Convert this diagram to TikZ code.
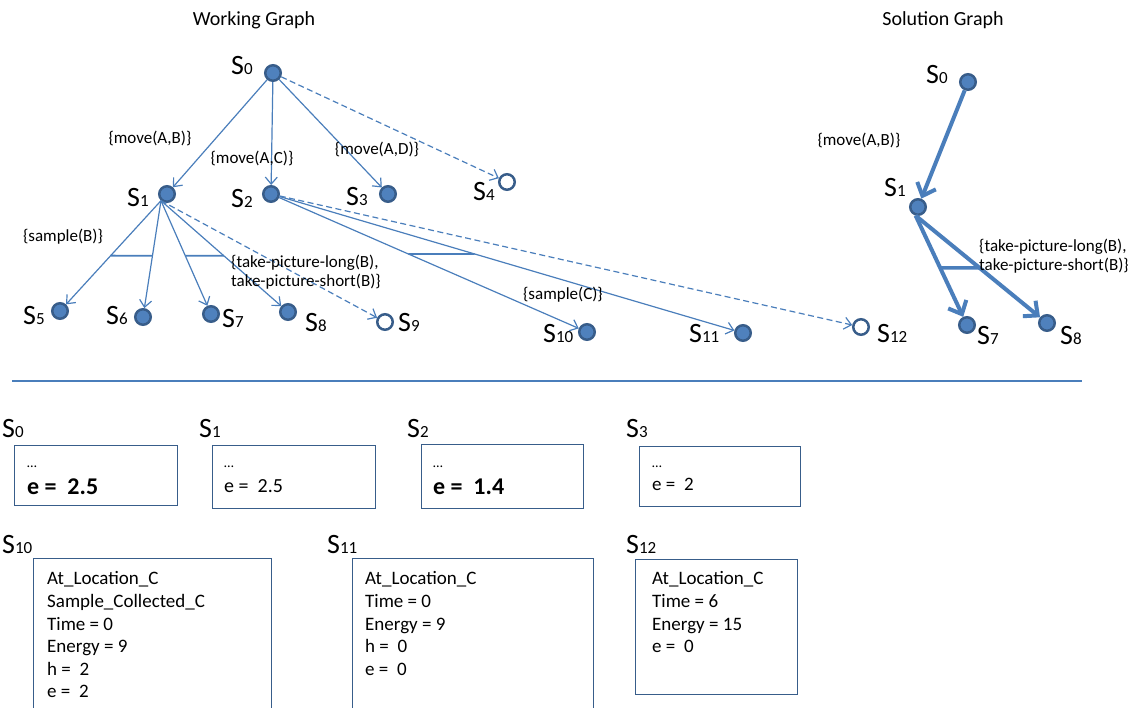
\documentclass[tikz,border=0pt]{standalone}
\usepackage{fontspec}
\setmainfont{Carlito}
\usetikzlibrary{arrows.meta}
\definecolor{edgeblue}{HTML}{4A7EBB}
\definecolor{nodefill}{HTML}{4F81BD}
\definecolor{nodeline}{HTML}{385D8A}
\newcommand\Sn[1]{S{\fontsize{17}{17}\selectfont #1}}
\begin{document}
\begin{tikzpicture}[x=1pt,y=-1pt,
 state/.style={circle, fill=nodefill, draw=nodeline, line width=2.5pt, minimum size=15.5pt, inner sep=0pt},
 openstate/.style={circle, fill=white, draw=nodeline, line width=2.5pt, minimum size=15.5pt, inner sep=0pt},
 slabel/.style={anchor=base west, inner sep=0pt, font=\fontsize{28}{28}\selectfont},
 elabel/.style={inner sep=0pt, font=\fontsize{17}{18.5}\selectfont},
 edge/.style={draw=edgeblue, line width=1.2pt, -{Straight Barb[length=7pt,width=12pt]}},
 dedge/.style={edge, dash pattern=on 6pt off 3.5pt},
 hyper/.style={draw=edgeblue, line width=1.8pt},
 bigedge/.style={draw=edgeblue, line width=4pt, -{Straight Barb[length=11pt,width=20pt]}},
 bighyper/.style={draw=edgeblue, line width=3.5pt},
 sepline/.style={draw=edgeblue, line width=2.5pt},
 box/.style={draw=nodeline, line width=1.3pt, anchor=north west, inner sep=0pt},
 boxtext/.style={anchor=north west, inner sep=0pt, align=left, font=\fontsize{19}{22.6}\selectfont},
 dots/.style={anchor=base west, inner sep=0pt, font=\fontsize{14}{14}\selectfont},
 evalue/.style={anchor=base west, inner sep=0pt},
 title/.style={font=\fontsize{20}{24}\selectfont}
]
\useasboundingbox (0,0) rectangle (1144,708);

% titles
\node[title] (t1) at (254,20) {Working Graph};
\node[title] (t2) at (943,20) {Solution Graph};

% working graph states
\node[state] (w0) at (273,73) {};
\node[state] (w1) at (167,194) {};
\node[state] (w2) at (271,194) {};
\node[state] (w3) at (388,194) {};
\node[openstate] (w4) at (507,182) {};
\node[state] (w5) at (60,311) {};
\node[state] (w6) at (143,317) {};
\node[state] (w7) at (211,314) {};
\node[state] (w8) at (288,312) {};
\node[openstate] (w9) at (385,322) {};
\node[state] (w10) at (587,332) {};
\node[state] (w11) at (743,333) {};
\node[openstate] (w12) at (861,327) {};

\node[slabel] (lw0) at (231,75) {\Sn0};
\node[slabel] (lw1) at (127,207) {\Sn1};
\node[slabel] (lw2) at (231,208) {\Sn2};
\node[slabel] (lw3) at (346,206) {\Sn3};
\node[slabel] (lw4) at (473,201) {\Sn4};
\node[slabel] (lw5) at (23,325) {\Sn5};
\node[slabel] (lw6) at (106,325) {\Sn6};
\node[slabel] (lw7) at (222,328) {\Sn7};
\node[slabel] (lw8) at (305,332) {\Sn8};
\node[slabel] (lw9) at (398,332) {\Sn9};
\node[slabel] (lw10) at (543,343) {\Sn{10}};
\node[slabel] (lw11) at (689,343) {\Sn{11}};
\node[slabel] (lw12) at (877,343) {\Sn{12}};

% working graph edges
\draw[edge] (w0) -- (w1);
\draw[edge] (w0) -- (w2);
\draw[edge] (w0) -- (w3);
\draw[dedge] (w0) -- (w4);
\coordinate (w1s) at (w1.228);
\draw[edge] (w1s) -- coordinate[pos=0.53] (h1a) (w5);
\draw[edge] (w1s) -- coordinate[pos=0.513] (h1b) (w6);
\draw[edge] (w1s) -- coordinate[pos=0.525] (h2a) (w7);
\draw[edge] (w1s) -- coordinate[pos=0.523] (h2b) (w8);
\draw[dedge] (w1s) -- (w9);
\draw[hyper] (h1a) -- (h1b);
\draw[hyper] (h2a) -- (h2b);
\draw[edge] (w2) -- coordinate[pos=0.431] (h3a) (w10);
\draw[edge] (w2) -- coordinate[pos=0.429] (h3b) (w11);
\draw[dedge] (w2) -- (w12);
\draw[hyper] (h3a) -- (h3b);

% working graph labels
\node[elabel] (m1) at (150,138) {\{move(A,B)\}};
\node[elabel] (m2) at (252,158) {\{move(A,C)\}};
\node[elabel] (m3) at (377,149) {\{move(A,D)\}};
\node[elabel] (m4) at (63,237) {\{sample(B)\}};
\node[elabel, anchor=west, align=left] (m5) at (231,272) {\{take-picture-long(B),\\take-picture-short(B)\}};
\node[elabel] (m6) at (563,295) {\{sample(C)\}};

% solution graph
\node[state] (z0) at (968,82) {};
\node[state] (z1) at (918,207) {};
\node[state] (z7) at (967,325) {};
\node[state] (z8) at (1047,323) {};
\node[slabel] (lz0) at (926,84) {\Sn0};
\node[slabel] (lz1) at (884,197) {\Sn1};
\node[slabel] (lz7) at (977,345) {\Sn7};
\node[slabel] (lz8) at (1060,345) {\Sn8};
\draw[bigedge] (z0) -- (z1);
\coordinate (z1s) at (z1.-105);
\draw[bigedge] (z1s) -- coordinate[pos=0.517] (h4a) (z7);
\draw[bigedge] (z1s) -- coordinate[pos=0.514] (h4b) (z8);
\draw[bighyper] (h4a) -- (h4b);
\node[elabel] (m7) at (859,140) {\{move(A,B)\}};
\node[elabel, anchor=west, align=left] (m8) at (979,256) {\{take-picture-long(B),\\take-picture-short(B)\}};

% separator
\coordinate (sepL) at (12,381);
\coordinate (sepR) at (1082,381);
\draw[sepline] (sepL) -- (sepR);

% state boxes
\node[slabel] (l0) at (2,438) {\Sn0};
\node[box, minimum width=163pt, minimum height=60pt] (b0) at (14,445) {};
\node[dots] (d0) at (27,468) {…};
\node[evalue, font=\fontsize{24}{24}\selectfont\bfseries] (e0) at (27,495) {e = \ 2.5};

\node[slabel] (l1) at (199,438) {\Sn1};
\node[box, minimum width=163pt, minimum height=63pt] (b1) at (212,445) {};
\node[dots] (d1) at (224,468) {…};
\node[evalue, font=\fontsize{20}{20}\selectfont] (e1) at (224,493) {e = \ 2.5};

\node[slabel] (l2) at (407,438) {\Sn2};
\node[box, minimum width=162pt, minimum height=64pt] (b2) at (421,444) {};
\node[dots] (d2) at (433,468) {…};
\node[evalue, font=\fontsize{24}{24}\selectfont\bfseries] (e2) at (433,495) {e = \ 1.4};

\node[slabel] (l3) at (626,438) {\Sn3};
\node[box, minimum width=161pt, minimum height=60pt] (b3) at (639,446) {};
\node[dots] (d3) at (652,468) {…};
\node[evalue, font=\fontsize{19}{19}\selectfont] (e3) at (652,491) {e = \ 2};

\node[slabel] (l10) at (2,553) {\Sn{10}};
\node[box, minimum width=238pt, minimum height=170pt] (b10) at (33,558) {};
\node[boxtext] (x10) at (47,571.5) {At\_Location\_C\\Sample\_Collected\_C\\Time = 0\\Energy = 9\\h = \ 2\\e = \ 2};

\node[slabel] (l11) at (327,553) {\Sn{11}};
\node[box, minimum width=241pt, minimum height=170pt] (b11) at (352,558) {};
\node[boxtext] (x11) at (365,571.5) {At\_Location\_C\\Time = 0\\Energy = 9\\h = \ 0\\e = \ 0};

\node[slabel] (l12) at (626,553) {\Sn{12}};
\node[box, minimum width=162pt, minimum height=135pt] (b12) at (635,559) {};
\node[boxtext] (x12) at (652,571.5) {At\_Location\_C\\Time = 6\\Energy = 15\\e = \ 0};
\end{tikzpicture}
\end{document}
